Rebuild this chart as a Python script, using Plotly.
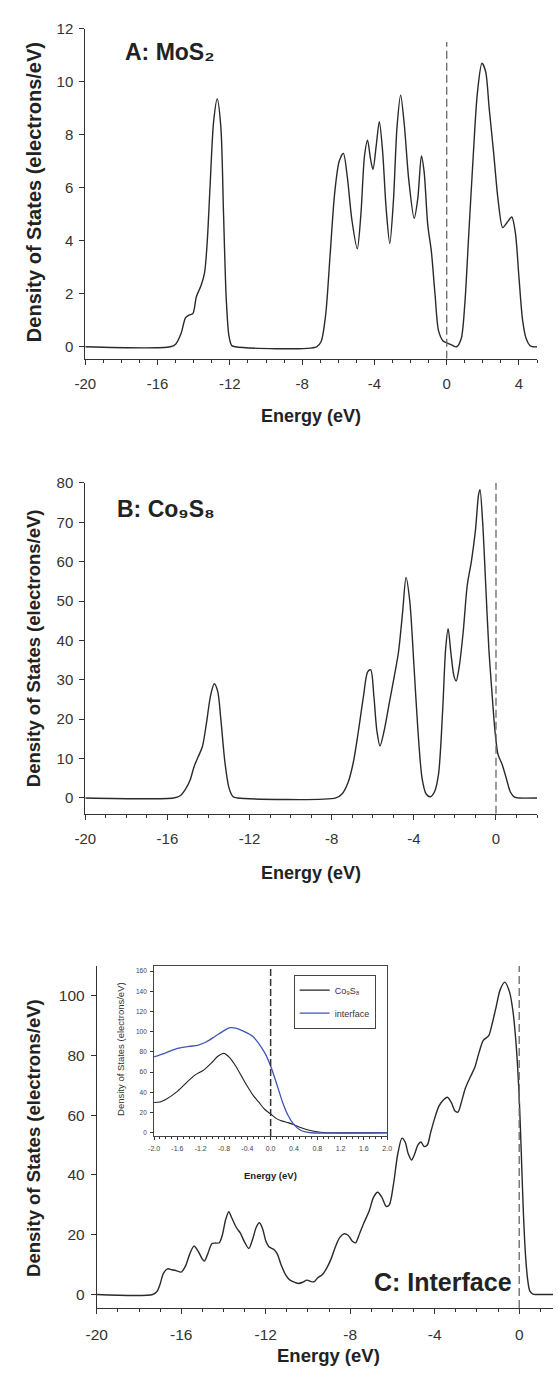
import plotly.graph_objects as go

# ---------------- data ----------------
# Panel A: MoS2
energy_a = [-20, -15.3, -15.0, -14.7, -14.45, -14.25, -14.05, -13.85, -13.6, -13.4, -13.25, -13.1,
            -12.9, -12.7, -12.5, -12.35, -12.2, -12.05, -11.9, -11.7, -7.2, -6.95, -6.7, -6.45,
            -6.2, -5.95, -5.72, -5.5, -5.25, -4.95, -4.75, -4.55, -4.38, -4.22, -4.08, -3.9,
            -3.73, -3.55, -3.35, -3.15, -2.95, -2.75, -2.55, -2.35, -2.1, -1.8, -1.6, -1.4,
            -1.25, -1.05, -0.85, -0.65, -0.45, -0.2, 0.0, 0.3, 0.55, 0.8, 1.0, 1.2, 1.45, 1.7,
            1.95, 2.15, 2.35, 2.6, 2.85, 3.1, 3.35, 3.6, 3.8, 4.0, 4.2, 4.4, 4.6, 4.8, 5.0]
dos_a = [0, 0, 0.1, 0.5, 1.1, 1.2, 1.25, 1.9, 2.3, 2.8, 4.0, 6.0,
         8.5, 9.35, 8.3, 5.0, 1.8, 0.4, 0.05, 0, 0, 0.2, 1.2, 3.5,
         5.8, 7.0, 7.3, 6.4, 4.8, 3.7, 5.0, 7.2, 7.8, 7.1, 6.7, 7.6,
         8.5, 7.4, 5.2, 3.9, 5.5, 8.3, 9.5, 8.4, 6.3, 4.85, 5.6, 7.2,
         6.6, 4.6, 3.6, 2.0, 0.6, 0.22, 0.15, 0.06, 0.0, 0.3, 1.6, 4.0, 7.0, 9.6,
         10.7, 10.4, 9.0, 7.3, 5.5, 4.5, 4.7, 4.9, 4.3, 2.6, 1.0, 0.3, 0.05, 0.0, 0.0]

# Panel B: Co9S8
energy_b = [-20, -15.7, -15.4, -15.15, -14.9, -14.7, -14.5, -14.3, -14.1, -13.9, -13.72, -13.55,
            -13.4, -13.2, -13.0, -12.8, -12.6, -7.8, -7.5, -7.2, -6.95, -6.7, -6.45, -6.25,
            -6.1, -5.95, -5.8, -5.65, -5.45, -5.2, -4.95, -4.75, -4.55, -4.38, -4.2, -4.0,
            -3.8, -3.6, -3.4, -3.2, -3.0, -2.8, -2.6, -2.45, -2.33, -2.2, -2.05, -1.94,
            -1.8, -1.6, -1.4, -1.2, -1.0, -0.85, -0.78, -0.65, -0.5, -0.35, -0.2, -0.05,
            0.1, 0.3, 0.5, 0.7, 0.9, 1.1, 2.0]
dos_b = [0, 0, 0.5, 2, 4.5, 8, 10.5, 13, 19, 26, 29, 27,
         20, 9, 2.5, 0.3, 0, 0, 1.0, 4, 9, 17, 26, 32,
         32.5, 26, 17, 13.2, 17, 24, 31, 37, 47, 56, 50, 34,
         17, 5, 1, 0.3, 1.5, 6, 22, 38, 43, 37, 31, 29.7,
         33, 42, 54, 60, 68, 77, 78.3, 70, 54, 38, 27, 17,
         11, 8.5, 5, 1.5, 0.2, 0, 0]

# Panel C: interface
energy_c = [-20, -17.35, -17.15, -17.0, -16.85, -16.65, -16.45, -16.25, -16.0, -15.8, -15.6, -15.4,
            -15.2, -15.0, -14.9, -14.75, -14.55, -14.4, -14.2, -14.05, -13.9, -13.75, -13.6, -13.4,
            -13.2, -13.0, -12.8, -12.6, -12.45, -12.3, -12.15, -12.0, -11.85, -11.6, -11.45, -11.25,
            -11.05, -10.85, -10.6, -10.45, -10.25, -10.05, -9.85, -9.7, -9.55, -9.3, -9.1, -8.9,
            -8.7, -8.5, -8.3, -8.1, -7.9, -7.75, -7.55, -7.35, -7.1, -6.9, -6.7, -6.5,
            -6.3, -6.15, -5.95, -5.75, -5.55, -5.4, -5.25, -5.1, -4.95, -4.8, -4.65, -4.5,
            -4.35, -4.2, -4.0, -3.8, -3.6, -3.4, -3.2, -3.05, -2.9, -2.75, -2.55, -2.3,
            -2.1, -1.9, -1.7, -1.45, -1.3, -1.1, -0.9, -0.68, -0.45, -0.3, -0.15, 0.0,
            0.1, 0.2, 0.3, 0.4, 0.5, 0.65, 0.8, 1.6]
dos_c = [0, 0, 1, 3.5, 7, 8.6, 8.3, 8.0, 7.5, 9.5, 13.5, 16.2,
         14.5, 11.8, 11.2, 13.5, 17, 17.2, 17.3, 20, 25, 27.7, 25.5, 22.5,
         20.5, 17.5, 15.4, 19, 22.5, 24, 22, 18, 16, 15, 13.5, 9.5,
         6.5, 4.8, 4.0, 3.7, 4.1, 4.8, 4.3, 4.3, 5.5, 6.8, 9, 12,
         16, 19, 20.3, 19.8, 17.8, 17.3, 20.5, 24, 28, 32.5, 34.2, 32.5,
         29.5, 30, 37, 47, 52.3, 51, 47, 45, 47, 50, 51, 49.5,
         50, 54, 59, 63, 65, 66, 64, 61.5, 61, 64, 69, 73,
         76, 81, 85, 86.5, 90, 96, 102, 104.5, 101, 95, 84, 66,
         47, 27, 13, 5, 1.2, 0.1, 0, 0]

# Inset: near the Fermi level
inset_energy_co = [-2.0, -1.9, -1.8, -1.6, -1.4, -1.3, -1.15, -1.0, -0.9, -0.8, -0.7, -0.6, -0.5,
                   -0.4, -0.3, -0.2, -0.1, 0.0, 0.1, 0.2, 0.3, 0.4, 0.5, 0.6, 0.7, 0.8, 0.9, 1.0, 2.0]
inset_dos_co = [30, 30.5, 33, 41, 52, 57, 62, 70, 76, 78.5, 74, 66, 56,
                46, 37, 30, 23, 18.5, 14, 11.5, 10, 8, 5.5, 3.5, 2, 1, 0.3, 0, 0]
inset_energy_if = [-2.0, -1.8, -1.6, -1.4, -1.25, -1.1, -0.95, -0.8, -0.7, -0.6, -0.45, -0.3,
                   -0.2, -0.1, 0.0, 0.1, 0.2, 0.3, 0.4, 0.5, 0.6, 0.7, 2.0]
inset_dos_if = [75, 79, 83.5, 85.5, 86.5, 90, 95.5, 101, 104, 103.5, 100, 95,
                88, 79, 66, 49, 31, 17, 8, 3, 0.8, 0, 0]

# tick labels
x_ticks = [-20, -16, -12, -8, -4, 0, 4]
x_ticktext = ["-20", "-16", "-12", "-8", "-4", "0", "4"]
x_minor = list(range(-20, 6))
ya_ticks = [0, 2, 4, 6, 8, 10, 12]
yb_ticks = [0, 10, 20, 30, 40, 50, 60, 70, 80]
yc_ticks = [0, 20, 40, 60, 80, 100]
inset_x_ticks = [-2.0, -1.6, -1.2, -0.8, -0.4, 0.0, 0.4, 0.8, 1.2, 1.6, 2.0]
inset_x_ticktext = ["-2.0", "-1.6", "-1.2", "-0.8", "-0.4", "0.0", "0.4", "0.8", "1.2", "1.6", "2.0"]
inset_x_minor = [round(-2.0 + 0.1 * i, 1) for i in range(41)]
inset_y_ticks = [0, 20, 40, 60, 80, 100, 120, 140, 160]

# ---------------- layout helpers ----------------
W, H = 558, 1376
FONT = "Arial, 'Liberation Sans', Helvetica, 'DejaVu Sans', sans-serif"
AX = "#333333"
LINE = "#2a2a2a"


def fx(px):
    return px / W


def fy(py):
    return 1 - py / H


fig = go.Figure()

main_style = dict(mode="lines", line=dict(color=LINE, width=1.4, shape="spline", smoothing=0.8),
                  showlegend=False, hoverinfo="skip")
fig.add_trace(go.Scatter(x=energy_a, y=dos_a, xaxis="x", yaxis="y", **main_style))
fig.add_trace(go.Scatter(x=energy_b, y=dos_b, xaxis="x2", yaxis="y2", **main_style))
fig.add_trace(go.Scatter(x=energy_c, y=dos_c, xaxis="x3", yaxis="y3", **main_style))

fig.add_trace(go.Scatter(x=inset_energy_co, y=inset_dos_co, xaxis="x4", yaxis="y4", mode="lines",
                         name="Co\u2089S\u2088", legendgroup="a",
                         line=dict(color="#222222", width=1.1, shape="spline", smoothing=0.8)))
fig.add_trace(go.Scatter(x=inset_energy_if, y=inset_dos_if, xaxis="x4", yaxis="y4", mode="lines",
                         name="interface", legendgroup="b",
                         line=dict(color="#3f55b8", width=1.3, shape="spline", smoothing=0.8)))


def xax(domain, rng, ticks, text, minor, size=15, standoff=6):
    return dict(domain=domain, range=rng, tickmode="array", tickvals=ticks, ticktext=text,
                ticks="outside", ticklen=5, tickwidth=1, tickcolor=AX,
                minor=dict(tickmode="array", tickvals=minor, ticks="outside", ticklen=3,
                           tickwidth=1, tickcolor=AX),
                showline=True, linecolor=AX, linewidth=1, showgrid=False, zeroline=False,
                tickfont=dict(family=FONT, size=size, color=AX), ticklabelstandoff=standoff,
                fixedrange=True)


def yax(domain, rng, ticks, anchor, size=15):
    return dict(domain=domain, range=rng, tickmode="array", tickvals=ticks,
                ticktext=[str(t) for t in ticks], anchor=anchor,
                ticks="outside", ticklen=5, tickwidth=1, tickcolor=AX,
                showline=True, linecolor=AX, linewidth=1, showgrid=False, zeroline=False,
                tickfont=dict(family=FONT, size=size, color=AX), ticklabelstandoff=3,
                fixedrange=True)


xa_dom = [fx(76.5), fx(541.6)]
xc_dom = [fx(88.3), 1.0]

fig.update_layout(
    xaxis=dict(anchor="y", **xax(xa_dom, [-20, 5], x_ticks, x_ticktext, x_minor)),
    yaxis=yax([fy(352), fy(20)], [-0.45, 12], ya_ticks, "x"),
    xaxis2=dict(anchor="y2", **xax(xa_dom, [-20, 2], x_ticks[:-1], x_ticktext[:-1], x_minor[:23])),
    yaxis2=yax([fy(810), fy(477)], [-4.0, 80], yb_ticks, "x2"),
    xaxis3=dict(anchor="y3", **xax(xc_dom, [-20, 1.6], x_ticks[:-1], x_ticktext[:-1], x_minor[:22],
                                   size=15.5, standoff=7)),
    yaxis3=yax([fy(1307.5), fy(963)], [-4.5, 110], yc_ticks, "x3", size=15.5),
    xaxis4=dict(domain=[fx(147.3), fx(387.3)], range=[-2, 2], anchor="y4", tickmode="array",
                tickvals=inset_x_ticks, ticktext=inset_x_ticktext, ticks="outside", ticklen=3,
                tickcolor=AX, minor=dict(tickmode="array", tickvals=inset_x_minor, ticks="outside",
                                         ticklen=2, tickcolor=AX),
                showline=True, mirror=True, linecolor="#444444", linewidth=1, showgrid=False,
                zeroline=False, tickfont=dict(family=FONT, size=7, color="#444444"),
                ticklabelstandoff=3, fixedrange=True),
    yaxis4=dict(domain=[fy(1134.5), fy(963.3)], range=[-3.3, 165], anchor="x4", tickmode="array",
                tickvals=inset_y_ticks, ticktext=[str(t) for t in inset_y_ticks],
                ticks="outside", ticklen=3, tickcolor=AX, showline=True, mirror=True,
                linecolor="#444444", linewidth=1, showgrid=False, zeroline=False,
                tickfont=dict(family=FONT, size=6.5, color="#444444"), ticklabelstandoff=2,
                fixedrange=True),
    width=W, height=H, margin=dict(l=0, r=0, t=0, b=0),
    paper_bgcolor="white", plot_bgcolor="rgba(0,0,0,0)",
    showlegend=True,
    legend=dict(x=fx(291), y=fy(972), xanchor="left", yanchor="top", bgcolor="white",
                bordercolor="#444444", borderwidth=1, font=dict(family=FONT, size=9, color="#333333"),
                itemwidth=30, tracegroupgap=4),
)

# Fermi-level reference lines (E = 0)
dash_style = dict(color="#666666", width=1.3, dash="8px,4px")
fig.add_shape(type="line", xref="x", yref="y", x0=0, x1=0, y0=-0.45, y1=11.5, line=dash_style)
fig.add_shape(type="line", xref="x2", yref="y2", x0=0, x1=0, y0=-4.0, y1=80.8, line=dash_style)
fig.add_shape(type="line", xref="x3", yref="y3", x0=0, x1=0, y0=-4.5, y1=110, line=dash_style)
fig.add_shape(type="line", xref="x4", yref="y4", x0=0, x1=0, y0=-3.3, y1=165,
              line=dict(color="#333333", width=1.5, dash="7px,3px"))


def ann(text, x, y, size, bold=False, angle=0, xanchor="center", color="#222222"):
    fig.add_annotation(text=text, x=fx(x), y=fy(y), xref="paper",
                       yref="paper", showarrow=False, textangle=angle, xanchor=xanchor,
                       yanchor="middle",
                       font=dict(family=FONT, size=size, color=color,
                                 weight="bold" if bold else "normal"))


# panel labels
ann("A: MoS\u2082", 115, 43, 23, bold=True, xanchor="left")
ann("B: Co\u2089S\u2088", 107, 503, 23, bold=True, xanchor="left")
ann("C: Interface", 372, 1281, 25, bold=True, xanchor="left")

# axis titles
ann("Density of States (electrons/eV)", 23, 184, 20, bold=True, angle=-90)
ann("Density of States (electrons/eV)", 23, 643, 18.5, bold=True, angle=-90)
ann("Density of States (electrons/eV)", 23, 1136, 18.5, bold=True, angle=-90)
ann("Energy (eV)", 309, 410, 18, bold=True)
ann("Energy (eV)", 309, 870, 18, bold=True)
ann("Energy (eV)", 327, 1355, 18.5, bold=True)
ann("Energy (eV)", 267, 1174, 9.5, bold=True)
ann("Density of States (electrons/eV)", 112, 1047, 9.5, angle=-90, color="#333333")

# remove the default page margin so the figure starts at the window's top-left corner
page_fix = ("document.body.style.margin='0';document.body.style.padding='0';"
            "document.body.style.overflow='hidden';"
            "document.documentElement.style.overflow='hidden';")

fig.write_html("out.html", post_script=page_fix, config={"displayModeBar": False})
